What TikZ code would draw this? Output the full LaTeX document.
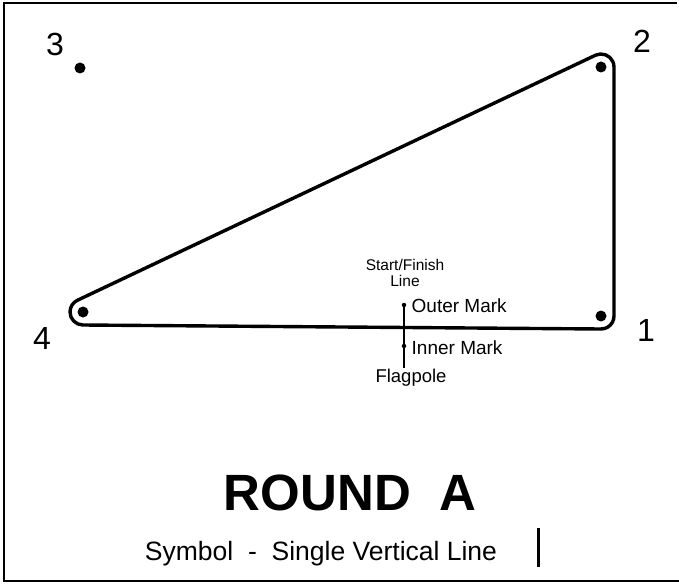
\documentclass[tikz,border=0pt]{standalone}
\usepackage{fontspec}
\setmainfont{Liberation Sans}
\usetikzlibrary{calc}

\begin{document}
\begin{tikzpicture}[x=1pt,y=-1pt,line width=3.4pt,
  buoy/.style={circle,fill,inner sep=0pt,minimum size=11pt},
  smallmark/.style={circle,fill,inner sep=0pt,minimum size=4.5pt},
  num/.style={font=\fontsize{32}{32}\selectfont,inner sep=0pt},
  lbl/.style={font=\fontsize{19}{19}\selectfont,inner sep=0pt,anchor=base west}]
  \useasboundingbox (0,0) rectangle (679,583);
  \draw[line width=2.4pt] (677,3) -- (4,3) -- (4,581) -- (679,581);

  % marks of the course
  \foreach \n/\x/\y in {1/601/316,2/601/67,3/80/68,4/83/312}
    \node[buoy] (m\n) at (\x,\y) {};
  \foreach \n/\x/\y in {1/646/330,2/642/41,3/55/44,4/42/338}
    \node[num] (n\n) at (\x,\y) {\n};

  \draw[line join=round] ($(m4)+(244.7:13)$) -- ($(m2)+(244.7:13)$)
    arc[start angle=244.7,end angle=360,radius=13] -- ($(m1)+(0:13)$)
    arc[start angle=0,end angle=90.67,radius=13] -- ($(m4)+(90.67:13)$)
    arc[start angle=90.67,end angle=244.7,radius=13] -- cycle;

  % start / finish line
  \node[smallmark] (om) at (404,305) {};
  \node[smallmark] (im) at (404,346) {};
  \coordinate (fp) at (404,368);
  \draw[line width=1.8pt] (om.center) -- (im.center) -- (fp);
  \node[font=\fontsize{15.5}{15.5}\selectfont,align=center,anchor=base,inner sep=0pt]
    (sf) at (405,286) {Start/Finish\\Line};
  \node[lbl] (outer) at (410,312) {Outer Mark};
  \node[lbl] (inner) at (410,354) {Inner Mark};
  \node[lbl,anchor=base,font=\fontsize{18.5}{18.5}\selectfont] (pole) at (411,382) {Flagpole};

  \node[font=\bfseries\fontsize{51}{51}\selectfont,anchor=base,inner sep=0pt]
    (title) at (350,510) {ROUND\ \ A};
  \node[font=\fontsize{26.5}{26.5}\selectfont,anchor=base,inner sep=0pt]
    (symbol) at (321,560) {Symbol\ \ -\ \ Single Vertical Line};
  \draw[line width=3pt] (538,528) -- (538,567);
\end{tikzpicture}
\end{document}
